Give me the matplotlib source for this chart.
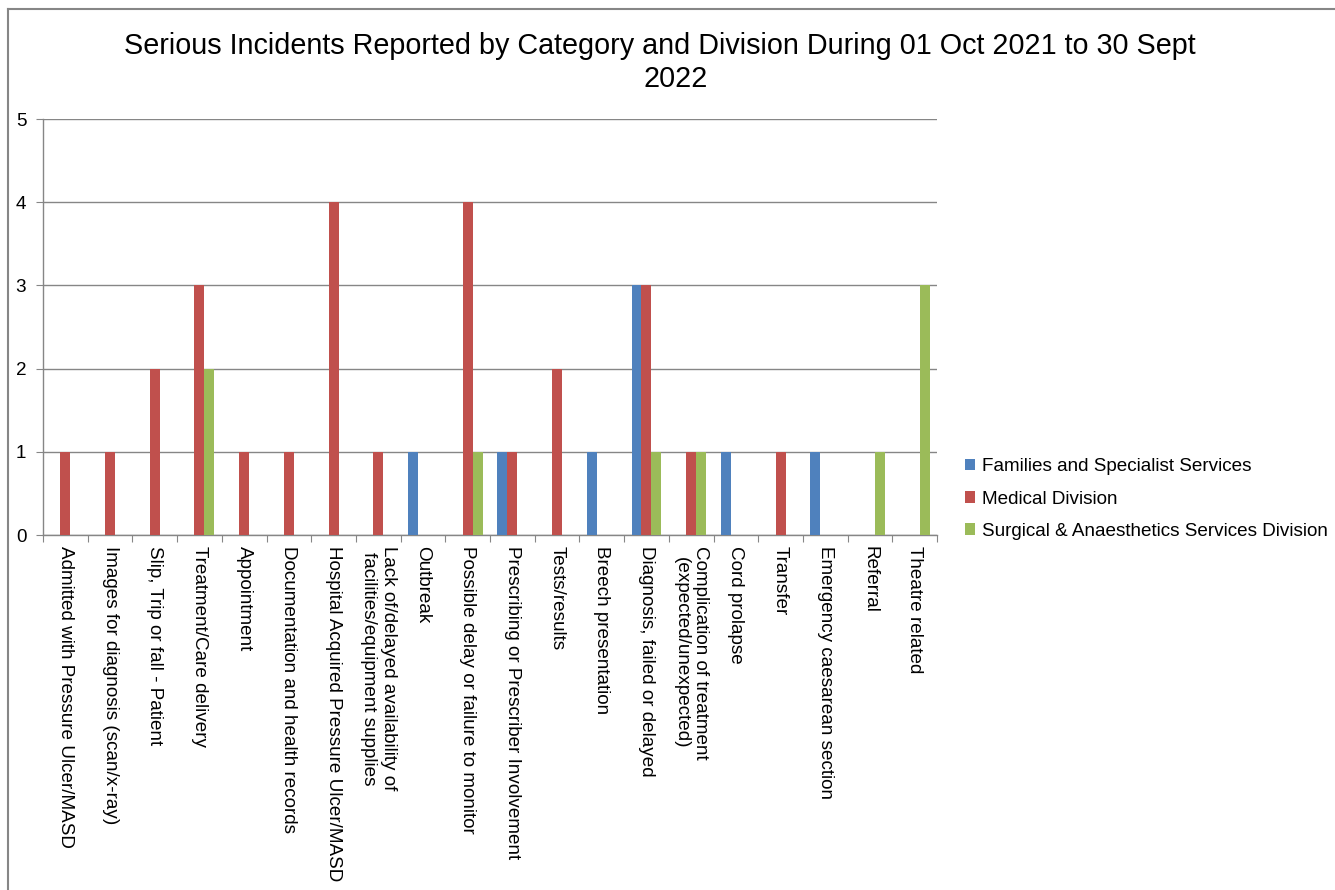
import matplotlib
matplotlib.use("Agg")
import matplotlib.pyplot as plt
import numpy as np
from matplotlib.lines import Line2D

categories = [
    "Admitted with Pressure Ulcer/MASD",
    "Images for diagnosis (scan/x-ray)",
    "Slip, Trip or fall - Patient",
    "Treatment/Care delivery",
    "Appointment",
    "Documentation and health records",
    "Hospital Acquired Pressure Ulcer/MASD",
    "Lack of/delayed availability of\nfacilities/equipment supplies",
    "Outbreak",
    "Possible delay or failure to monitor",
    "Prescribing or Prescriber Involvement",
    "Tests/results",
    "Breech presentation",
    "Diagnosis, failed or delayed",
    "Complication of treatment\n(expected/unexpected)",
    "Cord prolapse",
    "Transfer",
    "Emergency caesarean section",
    "Referral",
    "Theatre related",
]

series_names = [
    "Families and Specialist Services",
    "Medical Division",
    "Surgical & Anaesthetics Services Division",
]
families = [0, 0, 0, 0, 0, 0, 0, 0, 1, 0, 1, 0, 1, 3, 0, 1, 0, 1, 0, 0]
medical = [1, 1, 2, 3, 1, 1, 4, 1, 0, 4, 1, 2, 0, 3, 1, 0, 1, 0, 0, 0]
surgical = [0, 0, 0, 2, 0, 0, 0, 0, 0, 1, 0, 0, 0, 1, 1, 0, 0, 0, 1, 3]

colors = ["#4F81BD", "#C0504D", "#9BBB59"]
grey = "#868686"
label_font = ["Liberation Sans", "DejaVu Sans"]
fs = 13.6

W, H = 1335, 890
fig = plt.figure(figsize=(W / 100, H / 100), dpi=100)

# outer chart frame (top and left edges)
fig.add_artist(Line2D([8 / W, 8 / W], [0, 1 - 9 / H], transform=fig.transFigure,
                      color=grey, lw=1.5))
fig.add_artist(Line2D([8 / W, 1], [1 - 9 / H, 1 - 9 / H], transform=fig.transFigure,
                      color=grey, lw=1.5))

left, right, top, bottom = 43, 937, 119, 535
ax = fig.add_axes([left / W, 1 - bottom / H, (right - left) / W, (bottom - top) / H])

x = np.arange(len(categories))
bw = 0.222
for i, (vals, c, name) in enumerate(zip([families, medical, surgical], colors, series_names)):
    ax.bar(x + (i - 1) * bw, vals, width=bw, color=c, label=name, zorder=3)

ax.set_xlim(-0.5, len(categories) - 0.5)
ax.set_ylim(0, 5)
ax.set_yticks(range(0, 6))
ax.yaxis.grid(True, color=grey, lw=1, zorder=0)
for s in ["top", "right"]:
    ax.spines[s].set_visible(False)
for s in ["left", "bottom"]:
    ax.spines[s].set_color(grey)
    ax.spines[s].set_linewidth(1)

ax.set_xticks(np.arange(len(categories) + 1) - 0.5)
ax.set_xticklabels([])
ax.tick_params(axis="x", which="major", direction="out", length=5, color=grey)
ax.set_xticks(x, minor=True)
ax.set_xticklabels(categories, minor=True, rotation=-90, ha="center", va="top",
                   multialignment="center", fontsize=fs, family=label_font)
ax.tick_params(axis="x", which="minor", length=0, pad=8)
ax.tick_params(axis="y", direction="out", length=5, color=grey, pad=7)
for t in ax.get_yticklabels():
    t.set_fontsize(fs)
    t.set_family(label_font)

title_font = ["Liberation Sans", "DejaVu Sans"]
fig.text(660 / W, 1 - 46 / H, "Serious Incidents Reported by Category and Division During 01 Oct 2021 to 30 Sept",
         ha="center", va="center", fontsize=20.7, family=title_font)
fig.text(676 / W, 1 - 79 / H, "2022",
         ha="center", va="center", fontsize=20.7, family=title_font)

leg = ax.legend(loc="center left", bbox_to_anchor=(948 / W, 1 - 499 / H),
                bbox_transform=fig.transFigure, frameon=False,
                prop={"family": label_font, "size": fs},
                handlelength=0.55, handleheight=0.55, handletextpad=0.35, labelspacing=0.8)

fig.savefig("out.png", dpi=100, facecolor="white")
